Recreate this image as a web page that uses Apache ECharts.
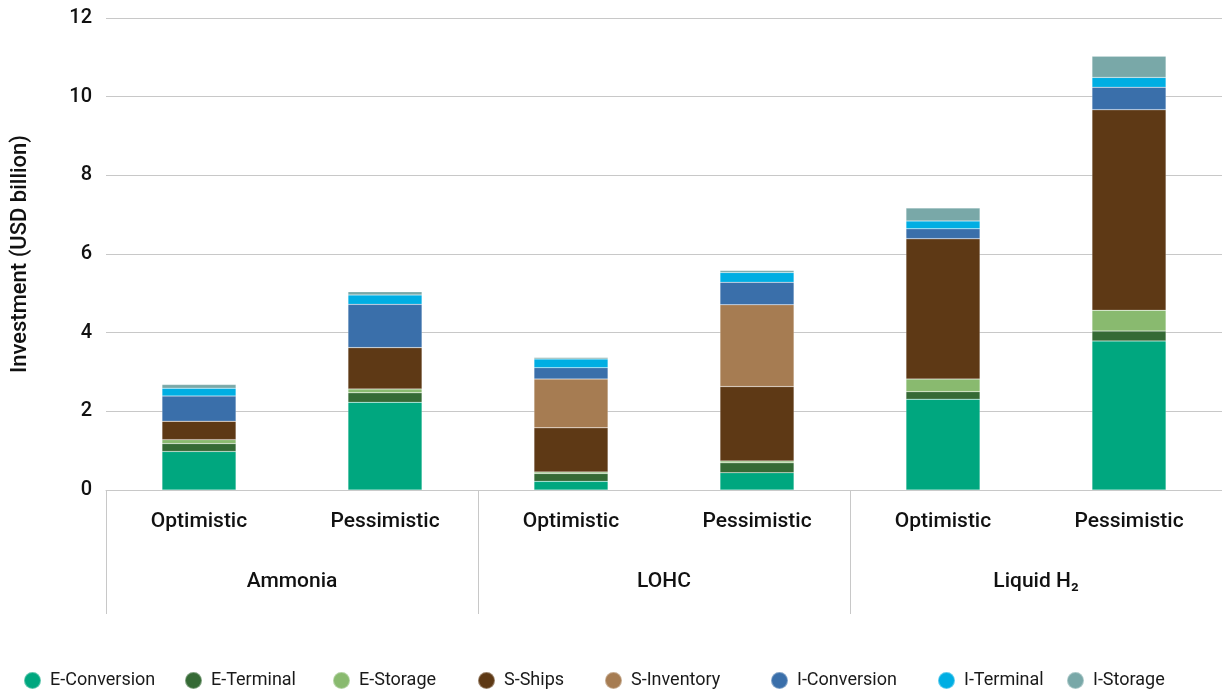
<!DOCTYPE html>
<html lang="en" style="height: 100%">
<head>
  <meta charset="utf-8">
  <script type="text/javascript" src="https://cdn.jsdelivr.net/npm/echarts@6/dist/echarts.min.js"></script>
</head>
<body style="height: 100%; margin: 0">
  <div id="container" style="width: 1222px; height: 690px"></div>
  <script type="text/javascript">
    var categories = ['Optimistic', 'Pessimistic', 'Optimistic', 'Pessimistic', 'Optimistic', 'Pessimistic'];
    var groups = ['Ammonia', 'LOHC', 'Liquid H\u2082'];
    var yTicks = [0, 2, 4, 6, 8, 10, 12];

    var eConversion = [0.98, 2.23, 0.22, 0.44, 2.31, 3.79];
    var eTerminal   = [0.20, 0.24, 0.20, 0.25, 0.19, 0.25];
    var eStorage    = [0.10, 0.10, 0.04, 0.05, 0.32, 0.53];
    var sShips      = [0.47, 1.05, 1.12, 1.89, 3.57, 5.10];
    var sInventory  = [0, 0, 1.24, 2.08, 0, 0];
    var iConversion = [0.64, 1.10, 0.29, 0.57, 0.25, 0.57];
    var iTerminal   = [0.20, 0.24, 0.22, 0.25, 0.20, 0.25];
    var iStorage    = [0.09, 0.08, 0.04, 0.05, 0.33, 0.54];

    var seriesNames = ['E-Conversion', 'E-Terminal', 'E-Storage', 'S-Ships', 'S-Inventory', 'I-Conversion', 'I-Terminal', 'I-Storage'];
    var seriesData = [eConversion, eTerminal, eStorage, sShips, sInventory, iConversion, iTerminal, iStorage];
    var colors = ['#00a77f', '#356a35', '#89ba6f', '#5e3915', '#a67c52', '#3a6faa', '#00aee3', '#79a8a8'];
    var legendLeft = [18, 179, 327, 472, 599, 765, 932, 1061];

    var font = 'Roboto';
    var dom = document.getElementById('container');
    var myChart = echarts.init(dom, null, { renderer: 'canvas' });

    var option = {
      color: colors,
      animation: false,
      textStyle: { fontFamily: font },
      legend: seriesNames.map(function (name, i) {
        return {
          data: [name],
          left: legendLeft[i],
          bottom: -5,
          icon: 'circle',
          itemWidth: 17,
          itemHeight: 17,
          textStyle: { fontFamily: font, fontSize: 18, color: '#1a1a1a', padding: [0, 0, 0, 4] }
        };
      }),
      grid: { left: 106, right: 0, top: 18, bottom: 200 },
      xAxis: [
        {
          type: 'category',
          data: categories,
          position: 'bottom',
          axisLine: { lineStyle: { color: '#c8c8c8' } },
          axisTick: { show: false },
          axisLabel: { margin: 21, fontSize: 21, fontWeight: 500, color: '#111', fontFamily: font }
        },
        {
          type: 'category',
          data: groups,
          position: 'bottom',
          axisLine: { show: false },
          axisTick: { show: true, length: 124, lineStyle: { color: '#c8c8c8' } },
          axisLabel: { margin: 81, fontSize: 21, fontWeight: 500, color: '#111', fontFamily: font }
        }
      ],
      yAxis: {
        type: 'value',
        min: yTicks[0],
        max: yTicks[yTicks.length - 1],
        interval: 2,
        name: 'Investment (USD billion)',
        nameLocation: 'middle',
        nameGap: 75,
        nameTextStyle: { fontSize: 22, fontWeight: 500, color: '#111', fontFamily: font },
        axisLine: { show: false },
        axisTick: { show: false },
        axisLabel: { fontSize: 20, fontWeight: 500, color: '#111', margin: 14, fontFamily: font },
        splitLine: { lineStyle: { color: '#c8c8c8' } }
      },
      series: seriesNames.map(function (name, i) {
        return {
          name: name,
          type: 'bar',
          stack: 'total',
          barWidth: 74,
          xAxisIndex: 0,
          data: seriesData[i],
          itemStyle: { borderColor: 'rgba(255,255,255,0.35)', borderWidth: 0.5 }
        };
      })
    };

    myChart.setOption(option);
  </script>
</body>
</html>
